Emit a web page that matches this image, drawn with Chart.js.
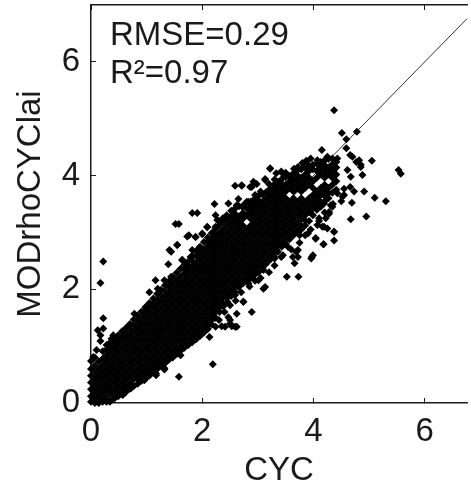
<!DOCTYPE html>
<html>
<head>
<meta charset="utf-8">
<title>CYC vs MODrhoCYClai</title>
<script src="https://cdn.jsdelivr.net/npm/chart.js@4"></script>
<style>
  html, body { margin: 0; padding: 0; background: #fff; overflow: hidden; }
  canvas { display: block; }
</style>
</head>
<body>
<canvas id="scatterChart" width="471" height="487"></canvas>
<script>
// Axis ticks and labels
const tickStep = 2;
const xMax = 6.76;
const yMax = 7;
const statLabels = ["RMSE=0.29", "R²=0.97"];

// 1:1 line
const lineCyc = [0, 6.76];
const lineRho = [0, 6.76];

// Dense cloud: one CYC value per column of points
const coreCyc = [
  0.00, 0.07, 0.14, 0.21, 0.28, 0.35, 0.42, 0.49, 0.56, 0.63, 0.70,
  0.77, 0.84, 0.91, 0.98, 1.05, 1.12, 1.19, 1.26, 1.33, 1.40,
  1.47, 1.54, 1.61, 1.68, 1.75, 1.82, 1.89, 1.96, 2.03, 2.10,
  2.17, 2.205, 2.24, 2.31, 2.38, 2.45, 2.52, 2.59, 2.66, 2.73, 2.80,
  2.87, 2.94, 3.01, 3.08, 3.15, 3.22, 3.29, 3.325, 3.36, 3.43, 3.50,
  3.57, 3.64, 3.71, 3.78, 3.85, 3.92, 3.99, 4.06, 4.13, 4.20, 4.27, 4.34, 4.41,
];
const coreRho = [
  [0.02, 0.12, 0.24, 0.36, 0.48, 0.60, 0.74],
  [0.00, 0.06, 0.18, 0.30, 0.42, 0.54, 0.66, 0.80],
  [0.00, 0.12, 0.24, 0.36, 0.48, 0.60, 0.73],
  [0.02, 0.06, 0.18, 0.30, 0.42, 0.54, 0.66, 0.78, 0.91],
  [0.02, 0.12, 0.24, 0.36, 0.48, 0.60, 0.72, 0.84, 0.94, 1.02],
  [0.05, 0.18, 0.30, 0.42, 0.54, 0.66, 0.78, 0.90, 0.98, 1.07],
  [0.08, 0.12, 0.24, 0.36, 0.48, 0.60, 0.72, 0.84, 0.96, 1.04, 1.13],
  [0.12, 0.18, 0.30, 0.42, 0.54, 0.66, 0.78, 0.90, 1.02, 1.10, 1.19],
  [0.16, 0.24, 0.36, 0.48, 0.60, 0.72, 0.84, 0.96, 1.08, 1.17, 1.26],
  [0.20, 0.30, 0.42, 0.54, 0.66, 0.78, 0.90, 1.02, 1.14, 1.23, 1.32],
  [0.25, 0.36, 0.48, 0.60, 0.72, 0.84, 0.96, 1.08, 1.20, 1.30, 1.39],
  [0.30, 0.42, 0.54, 0.66, 0.78, 0.90, 1.02, 1.14, 1.26, 1.37, 1.47],
  [0.34, 0.42, 0.48, 0.60, 0.72, 0.84, 0.96, 1.08, 1.20, 1.32, 1.44, 1.54],
  [0.39, 0.46, 0.54, 0.66, 0.78, 0.90, 1.02, 1.14, 1.26, 1.38, 1.50, 1.61],
  [0.43, 0.48, 0.60, 0.72, 0.84, 0.96, 1.08, 1.20, 1.32, 1.44, 1.56, 1.63, 1.69],
  [0.48, 0.54, 0.66, 0.78, 0.90, 1.02, 1.14, 1.26, 1.38, 1.50, 1.62, 1.69, 1.76],
  [0.54, 0.60, 0.72, 0.84, 0.96, 1.08, 1.20, 1.32, 1.44, 1.56, 1.68, 1.76, 1.84],
  [0.60, 0.66, 0.78, 0.90, 1.02, 1.14, 1.26, 1.38, 1.50, 1.62, 1.74, 1.83, 1.92],
  [0.65, 0.72, 0.84, 0.96, 1.08, 1.20, 1.32, 1.44, 1.56, 1.68, 1.80, 1.90, 1.99],
  [0.70, 0.78, 0.90, 1.02, 1.14, 1.26, 1.38, 1.50, 1.62, 1.74, 1.86, 1.97, 2.07],
  [0.76, 0.84, 0.96, 1.08, 1.20, 1.32, 1.44, 1.56, 1.68, 1.80, 1.92, 2.04, 2.14],
  [0.80, 0.90, 1.02, 1.14, 1.26, 1.38, 1.50, 1.62, 1.74, 1.86, 1.98, 2.10, 2.22],
  [0.86, 0.96, 1.08, 1.20, 1.32, 1.44, 1.56, 1.68, 1.80, 1.92, 2.04, 2.16, 2.29],
  [0.92, 1.02, 1.14, 1.26, 1.38, 1.50, 1.62, 1.74, 1.86, 1.98, 2.10, 2.22, 2.36],
  [0.97, 1.08, 1.20, 1.32, 1.44, 1.56, 1.68, 1.80, 1.92, 2.04, 2.16, 2.28, 2.36, 2.43],
  [1.02, 1.14, 1.26, 1.38, 1.50, 1.62, 1.74, 1.86, 1.98, 2.10, 2.22, 2.34, 2.42, 2.49],
  [1.07, 1.13, 1.20, 1.32, 1.44, 1.56, 1.68, 1.80, 1.92, 2.04, 2.16, 2.28, 2.40, 2.50, 2.59],
  [1.12, 1.19, 1.26, 1.38, 1.50, 1.62, 1.74, 1.86, 1.98, 2.10, 2.22, 2.34, 2.46, 2.58, 2.67],
  [1.18, 1.25, 1.32, 1.44, 1.56, 1.68, 1.80, 1.92, 2.04, 2.16, 2.28, 2.40, 2.52, 2.64, 2.75],
  [1.24, 1.31, 1.38, 1.50, 1.62, 1.74, 1.86, 1.98, 2.10, 2.22, 2.34, 2.46, 2.58, 2.70, 2.83],
  [1.30, 1.37, 1.44, 1.56, 1.68, 1.80, 1.92, 2.04, 2.16, 2.28, 2.40, 2.52, 2.64, 2.76, 2.84, 2.91],
  [1.38, 1.50, 1.62, 1.74, 1.86, 1.98, 2.10, 2.22, 2.34, 2.46, 2.58, 2.70, 2.82, 2.90, 2.99],
  [1.56, 1.68, 1.80, 1.92, 2.04, 2.16, 2.28, 2.40, 2.52, 2.64, 2.76, 2.88, 3.00],
  [1.50, 1.62, 1.74, 1.86, 1.98, 2.10, 2.22, 2.34, 2.46, 2.58, 2.70, 2.82, 2.94, 3.07],
  [1.60, 1.68, 1.80, 1.92, 2.04, 2.16, 2.28, 2.40, 2.52, 2.64, 2.76, 2.88, 3.00, 3.13],
  [1.70, 1.74, 1.86, 1.98, 2.10, 2.22, 2.34, 2.46, 2.58, 2.70, 2.82, 2.94, 3.06, 3.19],
  [1.78, 1.85, 1.92, 2.04, 2.16, 2.28, 2.40, 2.52, 2.64, 2.76, 2.88, 3.00, 3.12, 3.24],
  [1.88, 1.98, 2.10, 2.22, 2.34, 2.46, 2.58, 2.70, 2.82, 2.94, 3.06, 3.18, 3.29],
  [1.95, 2.04, 2.16, 2.28, 2.40, 2.52, 2.64, 2.76, 2.88, 3.00, 3.12, 3.24, 3.33],
  [2.05, 2.10, 2.22, 2.34, 2.46, 2.58, 2.70, 2.82, 2.94, 3.06, 3.18, 3.28],
  [2.10, 2.16, 2.28, 2.40, 2.52, 2.64, 2.76, 2.88, 3.00, 3.12, 3.24, 3.34, 3.44],
  [2.15, 2.22, 2.34, 2.46, 2.58, 2.70, 2.82, 2.94, 3.06, 3.30, 3.42],
  [2.20, 2.28, 2.40, 2.52, 2.64, 2.76, 2.88, 3.00, 3.12, 3.24, 3.36, 3.45, 3.54],
  [2.25, 2.34, 2.46, 2.58, 2.70, 2.82, 2.94, 3.06, 3.18, 3.30, 3.42, 3.50, 3.59],
  [2.30, 2.40, 2.52, 2.64, 2.76, 2.88, 3.00, 3.12, 3.24, 3.36, 3.48, 3.56, 3.64],
  [2.38, 2.46, 2.58, 2.70, 2.82, 2.94, 3.06, 3.18, 3.30, 3.42, 3.54, 3.67],
  [2.45, 2.52, 2.64, 2.76, 2.88, 3.00, 3.12, 3.24, 3.36, 3.48, 3.60, 3.71],
  [2.52, 2.58, 2.70, 2.82, 2.94, 3.06, 3.18, 3.30, 3.42, 3.54, 3.66, 3.77],
  [2.58, 2.64, 2.76, 2.88, 3.00, 3.12, 3.24, 3.36, 3.48, 3.60, 3.72, 3.84],
  [2.70, 2.82, 2.94, 3.06, 3.18, 3.30, 3.42, 3.54, 3.66, 3.78],
  [2.66, 2.76, 2.88, 3.00, 3.12, 3.24, 3.36, 3.48, 3.60, 3.72, 3.80, 3.89],
  [2.75, 2.82, 2.94, 3.06, 3.18, 3.30, 3.42, 3.54, 3.66, 3.78, 3.86, 3.94],
  [2.80, 2.88, 3.00, 3.12, 3.24, 3.36, 3.48, 3.60, 3.72, 3.84, 3.97],
  [2.88, 2.94, 3.06, 3.18, 3.30, 3.42, 3.54, 3.78, 3.89, 3.99],
  [2.95, 3.00, 3.12, 3.24, 3.36, 3.48, 3.60, 3.72, 3.84, 3.94, 4.04],
  [3.00, 3.06, 3.18, 3.30, 3.42, 3.54, 3.78, 3.90, 4.00, 4.09],
  [3.05, 3.12, 3.24, 3.36, 3.48, 3.60, 3.72, 3.84, 3.96, 4.11],
  [3.12, 3.21, 3.30, 3.42, 3.54, 3.78, 3.90, 4.02, 4.14],
  [3.20, 3.36, 3.48, 3.60, 3.84, 3.96, 4.08, 4.17],
  [3.30, 3.42, 3.54, 3.66, 3.78, 3.90, 4.11, 4.19],
  [3.40, 3.48, 3.60, 3.72, 3.96, 4.08, 4.21],
  [3.45, 3.54, 3.66, 3.78, 4.02, 4.14, 4.24],
  [3.55, 3.64, 3.72, 3.84, 3.96, 4.08, 4.18, 4.27],
  [3.60, 3.69, 3.78, 4.02, 4.14, 4.29],
  [3.70, 3.84, 3.96, 4.08, 4.20, 4.30],
  [3.75, 3.90, 4.02, 4.14, 4.24],
];

// Separate points around the cloud, read one by one
const outlierCyc = [
  4.37, 4.51, 4.78, 4.59, 4.59, 4.15, 3.88, 5.05, 5.53, 5.57, 4.91, 5.10,
  5.30, 4.69, 4.95, 4.67, 4.37, 4.37, 4.18, 4.04, 3.97, 3.73, 3.52, 3.22,
  3.13, 3.44, 2.59, 2.71, 2.89, 2.98, 4.85, 4.88, 4.82, 4.66, 4.66, 4.55,
  4.28, 4.19, 3.72, 3.66, 0.22, 0.17, 0.22, 0.12, 0.22, 0.17, 0.17, 0.37,
  0.51, 1.16, 1.39, 1.64, 1.44, 1.55, 1.52, 1.58, 1.73, 1.88, 2.00, 2.09,
  1.05, 0.78, 1.82, 1.91, 2.22, 2.24, 2.19, 1.58, 1.32, 1.61, 2.13, 2.89,
  2.35, 2.53, 2.62, 2.21, 2.50, 2.74, 3.10, 1.17, 0.96, 0.57, 0.34,
];
const outlierRho = [
  5.15, 4.75, 4.77, 4.64, 4.48, 4.45, 4.25, 4.26, 4.10, 4.03, 3.72, 3.61,
  3.55, 3.52, 3.28, 3.23, 3.01, 2.86, 2.79, 2.90, 2.57, 2.22, 2.22, 4.12,
  3.94, 4.04, 3.82, 3.82, 3.80, 3.85, 4.19, 4.01, 4.27, 4.36, 3.80, 3.66,
  3.36, 3.10, 2.69, 2.46, 2.49, 2.11, 1.49, 1.28, 1.31, 1.19, 1.09, 1.13,
  1.17, 2.16, 2.44, 2.52, 2.66, 2.78, 3.15, 3.15, 2.93, 2.92, 2.97, 3.09,
  1.95, 1.57, 3.34, 3.34, 3.50, 3.30, 0.68, 0.46, 0.59, 0.84, 1.16, 1.60,
  1.35, 1.35, 1.34, 1.49, 1.46, 1.78, 2.01, 0.49, 0.40, 0.14, 0.02,
];

// Ragged edge of the cloud, upper side
const upperEdgeCyc = [
  2.71, 2.86, 2.92, 3.13, 3.22, 3.42, 3.72, 3.87, 4.07, 4.25, 4.43, 3.33,
  3.60, 2.65, 2.83, 4.67, 4.85, 4.70, 4.77, 4.61, 1.76, 1.88, 2.00, 2.09,
  1.94, 2.24, 2.27, 2.44, 2.47, 2.62, 2.74, 2.89, 1.41, 1.44, 1.64, 1.79,
  1.82, 1.55, 1.20, 1.32, 2.30, 2.37, 2.52, 2.59, 2.66, 2.80, 2.95, 3.05,
  3.20, 3.30, 3.50, 3.65, 3.80, 3.95, 0.10, 0.04, 0.40, 0.48, 0.66,
];
const upperEdgeRho = [
  3.83, 3.80, 3.89, 3.92, 4.13, 4.07, 4.15, 4.26, 4.27, 4.33, 4.30, 4.04,
  3.92, 3.59, 3.54, 3.98, 4.15, 4.33, 4.24, 4.10, 2.95, 2.92, 2.98, 3.10,
  2.72, 3.10, 3.22, 3.30, 3.51, 3.48, 3.48, 3.54, 2.69, 2.22, 2.51, 2.57,
  2.69, 2.78, 2.01, 2.16, 3.20, 3.25, 3.38, 3.42, 3.46, 3.54, 3.66, 3.72,
  3.85, 3.93, 4.05, 4.12, 4.22, 4.30, 0.93, 0.81, 1.19, 1.10, 1.34,
];

// Ragged edge of the cloud, lower side
const lowerEdgeCyc = [
  3.36, 3.48, 3.54, 3.69, 3.42, 3.63, 3.30, 3.99, 3.96, 4.18, 4.04, 4.37,
  4.25, 4.07, 4.16, 4.10, 4.22, 4.28, 4.34, 4.55, 4.43, 4.19, 4.73, 3.72,
  3.90, 3.75, 4.31, 4.52, 3.10, 3.13, 3.01, 2.83, 2.65, 2.59, 2.74, 2.62,
  2.47, 2.30, 2.18, 2.24, 2.41, 2.59, 2.50, 2.40, 2.50, 2.60, 2.70, 2.85,
  2.95, 3.05, 3.20, 3.30, 3.45, 3.60, 3.75, 3.85, 3.95, 4.10, 4.20, 4.35,
  4.50, 0.60, 0.72, 1.17, 1.32,
];
const lowerEdgeRho = [
  2.81, 2.81, 2.75, 2.66, 2.57, 2.57, 2.54, 2.60, 2.54, 2.79, 2.89, 3.01,
  3.07, 3.13, 3.10, 3.25, 3.25, 3.33, 3.45, 3.77, 3.69, 3.51, 3.72, 2.57,
  2.98, 2.95, 3.48, 3.63, 2.34, 2.04, 2.16, 2.10, 2.04, 1.90, 1.78, 1.57,
  1.51, 1.46, 1.49, 1.34, 1.34, 1.34, 1.40, 1.60, 1.72, 1.80, 1.95, 2.05,
  2.15, 2.20, 2.30, 2.42, 2.60, 2.70, 2.82, 2.95, 3.05, 3.20, 3.35, 3.50,
  3.55, 0.17, 0.26, 0.52, 0.61,
];

const fontFamily = '"Liberation Sans", Arial, sans-serif';
const inkColor = "#1a1a1a";
const labelSize = 33;

// Build the point list for the scatter dataset
const points = [];
coreCyc.forEach((x, i) => {
  coreRho[i].forEach((y) => points.push({ x: x, y: y }));
});
outlierCyc.forEach((x, i) => points.push({ x: x, y: outlierRho[i] }));
upperEdgeCyc.forEach((x, i) => points.push({ x: x, y: upperEdgeRho[i] }));
lowerEdgeCyc.forEach((x, i) => points.push({ x: x, y: lowerEdgeRho[i] }));

// RMSE and R² text inside the plot
const statsPlugin = {
  id: "stats",
  afterDraw(chart) {
    const ctx = chart.ctx;
    ctx.save();
    ctx.fillStyle = inkColor;
    ctx.font = labelSize + "px " + fontFamily;
    ctx.textBaseline = "alphabetic";
    ctx.fillText(statLabels[0], 110, 45);
    ctx.fillText(statLabels[1], 110, 83);
    ctx.restore();
  },
};

function axisGrid() {
  return {
    drawOnChartArea: false,
    drawTicks: true,
    tickLength: -5,
    tickColor: inkColor,
    tickWidth: 1,
  };
}

// Fix the axis box so tick labels do not push the plot area in
function fixBox(scale, size) {
  if (scale.isHorizontal()) {
    scale.height = size;
  } else {
    scale.width = size;
  }
  scale.paddingTop = 0;
  scale.paddingBottom = 0;
  scale.paddingLeft = 0;
  scale.paddingRight = 0;
}

new Chart(document.getElementById("scatterChart").getContext("2d"), {
  type: "scatter",
  data: {
    datasets: [
      {
        data: points,
        pointStyle: "rectRot",
        pointRadius: 4,
        pointBorderWidth: 0,
        backgroundColor: "#000",
        clip: false,
      },
      {
        type: "line",
        data: [
          { x: lineCyc[0], y: lineRho[0] },
          { x: lineCyc[1], y: lineRho[1] },
        ],
        borderColor: "#333",
        borderWidth: 1,
        pointRadius: 0,
      },
    ],
  },
  options: {
    responsive: false,
    animation: false,
    layout: { padding: 0 },
    plugins: { legend: { display: false }, tooltip: { enabled: false } },
    scales: {
      x: {
        type: "linear",
        position: "bottom",
        min: 0,
        max: xMax,
        afterFit(scale) {
          fixBox(scale, 84);
        },
        grid: axisGrid(),
        border: { color: inkColor, width: 1.5 },
        ticks: {
          stepSize: tickStep,
          includeBounds: false,
          maxRotation: 0,
          padding: 17,
          color: inkColor,
          font: { family: fontFamily, size: labelSize, lineHeight: 1 },
        },
        title: {
          display: true,
          text: "CYC",
          color: inkColor,
          padding: 0,
          font: { family: fontFamily, size: labelSize, lineHeight: 1 },
        },
      },
      xTop: {
        type: "linear",
        position: "top",
        min: 0,
        max: xMax,
        afterFit(scale) {
          fixBox(scale, 5);
        },
        grid: axisGrid(),
        border: { color: inkColor, width: 1.5 },
        ticks: { stepSize: tickStep, includeBounds: false, display: false },
      },
      y: {
        type: "linear",
        position: "left",
        min: 0,
        max: yMax,
        afterFit(scale) {
          fixBox(scale, 91);
        },
        grid: axisGrid(),
        border: { color: inkColor, width: 1.5 },
        ticks: {
          stepSize: tickStep,
          includeBounds: false,
          padding: 16,
          color: inkColor,
          font: { family: fontFamily, size: labelSize, lineHeight: 1 },
        },
        title: {
          display: true,
          text: "MODrhoCYClai",
          color: inkColor,
          padding: { top: 14, bottom: 0 },
          font: { family: fontFamily, size: labelSize, lineHeight: 1 },
        },
      },
    },
  },
  plugins: [statsPlugin],
});
</script>
</body>
</html>
